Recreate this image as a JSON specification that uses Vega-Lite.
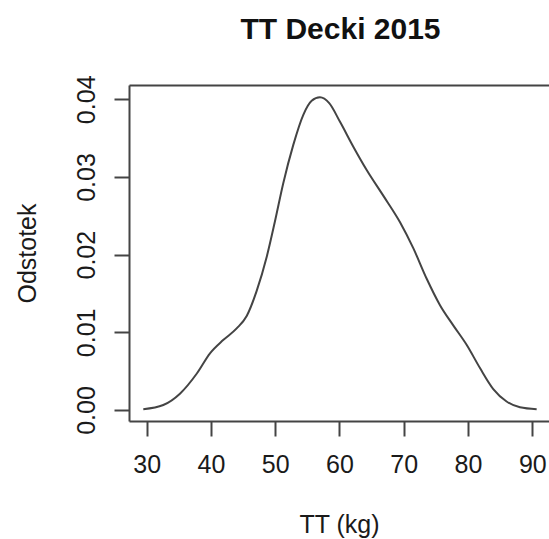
{
  "$schema": "https://vega.github.io/schema/vega-lite/v6.json",
  "width": 420,
  "height": 336,
  "autosize": {"type": "none"},
  "padding": {"left": 129, "top": 85, "right": 0, "bottom": 118},
  "background": "white",
  "config": {"view": {"stroke": null}, "font": "Liberation Sans"},
  "data": {"values": [
    {"x": 29.47, "y": 0.0001},
    {"x": 32.58, "y": 0.00064},
    {"x": 35.17, "y": 0.0021},
    {"x": 37.8, "y": 0.0047},
    {"x": 39.85, "y": 0.0073},
    {"x": 41.9, "y": 0.009},
    {"x": 44.0, "y": 0.0105},
    {"x": 45.56, "y": 0.0121},
    {"x": 47.1, "y": 0.0153},
    {"x": 48.67, "y": 0.0197},
    {"x": 49.96, "y": 0.0243},
    {"x": 51.25, "y": 0.0292},
    {"x": 52.8, "y": 0.0341},
    {"x": 54.37, "y": 0.038},
    {"x": 55.67, "y": 0.0398},
    {"x": 56.96, "y": 0.04025},
    {"x": 58.4, "y": 0.0395},
    {"x": 60.08, "y": 0.0371},
    {"x": 62.15, "y": 0.0339},
    {"x": 64.23, "y": 0.0309},
    {"x": 66.81, "y": 0.0276},
    {"x": 69.4, "y": 0.0242},
    {"x": 71.5, "y": 0.0208},
    {"x": 73.57, "y": 0.0169},
    {"x": 75.64, "y": 0.0135},
    {"x": 77.7, "y": 0.0109},
    {"x": 79.78, "y": 0.0084},
    {"x": 81.86, "y": 0.0054},
    {"x": 83.93, "y": 0.0027},
    {"x": 86.0, "y": 0.0011},
    {"x": 88.08, "y": 0.00035},
    {"x": 90.68, "y": 0.0001}
  ]},
  "layer": [
    {
      "mark": {"type": "line", "color": "#444", "strokeWidth": 2, "interpolate": "monotone"},
      "encoding": {
        "x": {"field": "x", "type": "quantitative",
          "scale": {"domain": [27.246, 92.6], "nice": false, "zero": false},
          "axis": {"orient": "bottom", "values": [30, 40, 50, 60, 70, 80, 90], "grid": false,
            "domainColor": "#444", "domainWidth": 2, "tickColor": "#444", "tickWidth": 2, "tickSize": 15,
            "labelPadding": 16, "labelFontSize": 25, "labelColor": "#1a1a1a", "labelFlush": false, "labelOverlap": false,
            "title": "TT (kg)", "titleFontSize": 25, "titleFontWeight": "normal", "titleColor": "#1a1a1a",
            "titleY": 111, "titleBaseline": "alphabetic"}},
        "y": {"field": "y", "type": "quantitative",
          "scale": {"domain": [-0.001416, 0.041841], "nice": false, "zero": false},
          "axis": {"values": [0, 0.01, 0.02, 0.03, 0.04], "format": ".2f", "grid": false,
            "domainColor": "#444", "domainWidth": 2, "tickColor": "#444", "tickWidth": 2, "tickSize": 15,
            "labelPadding": 20, "labelFontSize": 25, "labelColor": "#1a1a1a", "labelFlush": false, "labelOverlap": false,
            "labelAngle": 270, "labelAlign": "center", "labelBaseline": "alphabetic",
            "title": "Odstotek", "titleFontSize": 25, "titleFontWeight": "normal", "titleColor": "#1a1a1a",
            "titleAngle": 270, "titleX": -94, "titleY": 168, "titleAlign": "center", "titleBaseline": "alphabetic"}}
      }
    },
    {
      "mark": {"type": "line", "opacity": 0},
      "encoding": {
        "x": {"field": "x", "type": "quantitative",
          "axis": {"orient": "top", "labels": false, "ticks": false, "grid": false,
            "domain": true, "domainColor": "#444", "domainWidth": 2,
            "title": "TT Decki 2015", "titleFontSize": 30, "titleFontWeight": "bold", "titleColor": "#111",
            "titleX": 211, "titleY": -47, "titleAlign": "center", "titleBaseline": "alphabetic"}},
        "y": {"field": "y", "type": "quantitative", "axis": null}
      }
    }
  ],
  "resolve": {"axis": {"x": "independent", "y": "independent"}}
}
